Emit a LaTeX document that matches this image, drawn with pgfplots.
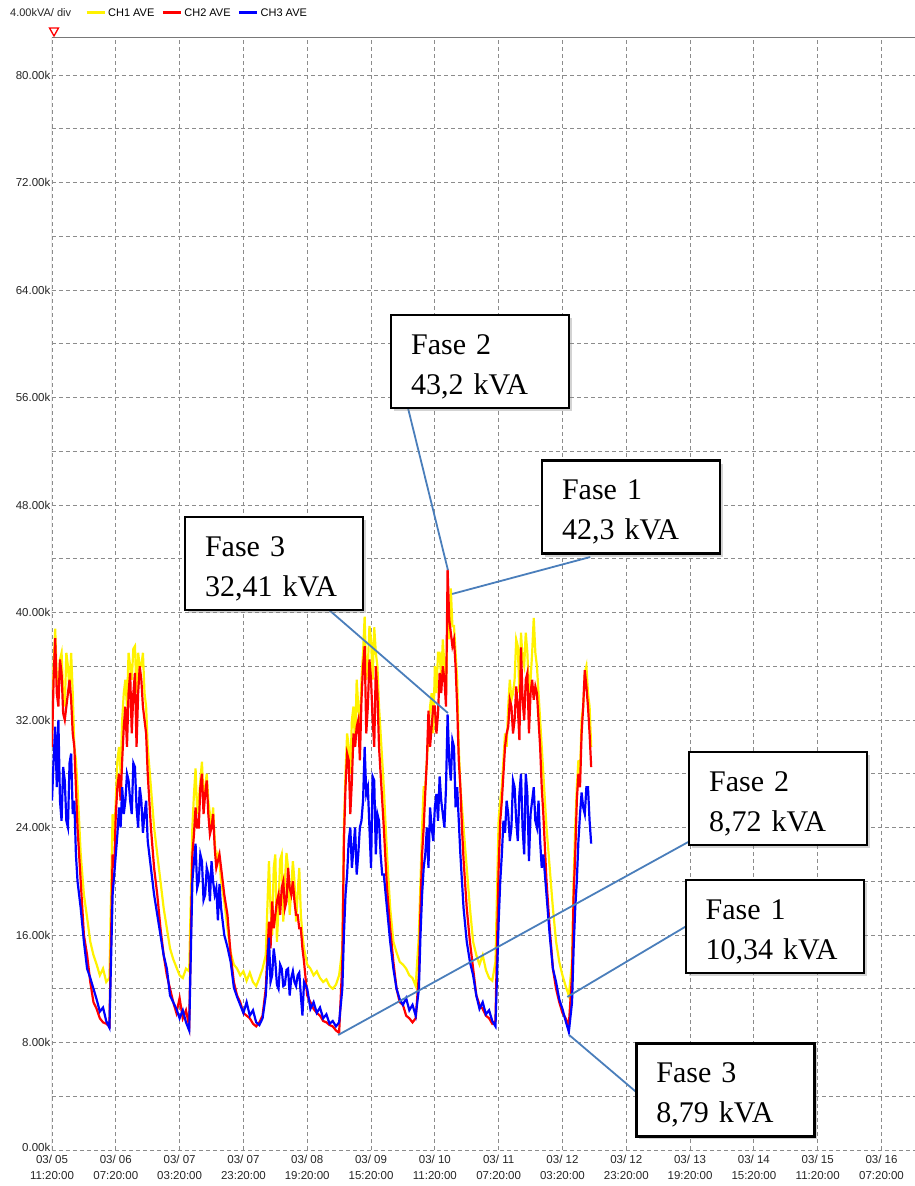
\documentclass[border=0pt]{standalone}
\usepackage{fontspec}
\setmainfont{Liberation Sans}
\newfontfamily\boxfont{Liberation Serif}
\usepackage{pgfplots}
\usepackage{pgfplotstable}
\pgfplotsset{compat=1.18}
\usetikzlibrary{shadows}

\definecolor{gridgray}{RGB}{140,140,140}
\definecolor{axgray}{RGB}{120,120,120}
\definecolor{leader}{RGB}{74,126,187}

% h = hours since 03/05 11:20, values in kVA (thousands)
\pgfplotstableread{
h    ch1  ch2  ch3
0    31   30   26
0.5  36   35   29
1    38.8 38.1 31.5
1.5  35   34   27
2    34   33   32
2.5  36.5 36.5 26
3    37   35.5 24.5
3.5  34   32.5 28.5
4    33   32   27.5
4.5  37   33   24.5
5    36   34   24
5.5  34   35   28.8
6    37   33.5 29.5
6.5  34   31   25
7    30   30   26
7.5  29   27   22
8    27   24   20
9    22   20   18
10   19   16   15.5
11   17.3 14.5 13.5
12   15.5 12.5 12.8
13   14.5 11   12
14   13.8 10.5 11.2
15   13   9.8  10.3
16   13.5 9.5  10.6
17   12.5 9.4  9.6
18   12.8 9.2  9.1
19   25   22   19
19.5 23   21   20.5
20   26   25   22
20.5 29   27   23.5
21   30   28   25.5
21.5 28   26   24
22   32   29   27
22.5 34   31.5 25
23   35   33   26
23.5 33   30   28
24   37   34   27.5
24.5 36   35.5 26
25   35   31   25
25.5 37.3 34   28.8
26   37.5 35.5 28.5
26.5 34   30   25.5
27   37   34   24
27.5 36   36   27
28   36   35   26
28.5 37   33   23.6
29   34   32   25
29.5 33   31   26
30   30   28   23
30.5 28.5 26   22
31   27   24   21
32   24   21   19
33   22   19   17.5
34   20   16.5 16
35   18   14.5 14.5
36   16.5 13   13.5
37   15   12   11.5
38   14.2 11   11
39   13.6 10.2 10.5
40   13   11.3 9.8
41   12.8 9.8  10.4
42   13.5 10.4 9.5
43   13.3 9.2  8.9
44   24   22   20
44.5 26.5 23.5 21.5
45   28.4 25.5 22.8
45.5 25   24   19.5
46   26   24   20
46.5 27.5 27   22
47   28.9 28   21.5
47.5 26   25   18.6
48   27   26.5 19
48.5 28   27.5 21
49   26   25   20.5
49.5 25   23.5 18.5
50   24   24   21.5
50.5 25.5 25   20
51   23   22.5 19
51.5 21.5 21   19.5
52   22   21.5 17.1
52.5 21.5 22   19.8
53   20   21   18
54   18.5 19   16
55   16.5 17.5 15.1
56   14.7 14.5 14
57   13.8 12.5 12.1
58   13.5 11.5 11.4
59   13   11   10.8
60   13.3 10.2 10.2
61   12.6 10   11
62   13.2 9.8  10
63   12.5 9.4  10.4
64   12.2 9.2  9.5
65   12.8 9.5  9.3
66   13.5 10   9.8
67   14.5 12   11.5
68   21.5 17   15.8
68.5 18   15   12.5
69   16   18.5 13
69.5 21   16.5 15
70   22   17.5 14
70.5 15.5 18.5 12.3
71   18   19   12
71.5 21.6 17.5 13.8
72   22   19.5 13.5
72.5 17   20   12.2
73   20   18   12.3
73.5 22.1 18.5 13.4
74   21   21   13.5
74.5 17.5 19.5 11.5
75   19.5 19   12.8
75.5 21.5 20   13.3
76   20   18.5 12.5
76.5 17   17.5 12.2
77   19   17.5 13
77.5 21   16.5 13.2
78   17.5 16.5 11.5
78.5 16   15   10
79   15   14   12.5
80   13.8 11.5 12
81   13.5 11   10.5
82   13   10.5 11
83   13.3 10.2 10.2
84   12.8 10   10.6
85   12.5 9.6  9.8
86   12.7 9.5  10.1
87   12.2 9.3  9.4
88   12   9.2  9.6
89   12.3 8.9  9.2
90   13   8.72 9.5
91   15   14   12
91.5 24   23   16
92   28   27   19
92.5 31   29.5 20.5
93   30   29   23
93.5 28   25   24
94   32   27.5 21
94.5 33   31   22.5
95   30   30   24
95.5 35   31.5 20.5
96   33   32   22
96.5 31   29   24
97   35   33.5 24.5
97.5 37   36   26
98   39.7 37.5 30
98.5 35   31   26.5
99   36   33   27
99.5 39   36.5 24
100  38   35   21
100.5 35  32   27.8
101  38.9 30   27.5
101.5 37  36   22
102  36   34   25
102.5 33  30   24.5
103  31   28   22
103.5 29  26   20.5
104  27   24   20.5
105  22   19.5 18
106  18   16.5 15.5
107  15.5 14   13.5
108  14.7 12   12
109  14   11   11.2
110  13.8 10.8 10.8
111  13.5 10   11.3
112  13   9.8  10.4
113  12.8 9.5  10.8
114  12.2 9.8  10
115  16   13   12
115.5 20  18   16
116  24   22   19
116.5 27  24   21
117  27   26.6 22
117.5 29  29   24
118  31   32.7 21
118.5 33  30   25.5
119  34   31.5 24
119.5 31  33   23
120  36   33   25.5
120.5 34  31   26.5
121  37   32.5 24.5
121.5 37  35.5 27.8
122  35   34   26
122.5 38  36   25
123  36   35   24
123.5 34  33   27
124  40   43.2 32.41
124.5 38  39.5 29
125  41.8 38.5 27.5
125.5 39  37.5 30.5
126  39   38   30
126.5 37  36   25.5
127  35   33   27
127.5 30  29   24.5
128  27   27   22
128.5 25.5 24  20
129  24   21.6 18
130  21   18   15.5
131  18   15.5 14
132  15.5 13.5 13
133  14.5 11.5 11.5
134  13.8 10.8 10.5
135  14.5 10.5 11
136  13.4 10   10.1
137  12.8 9.8  10.4
138  12.6 9.4  9.6
139  14   9.6  9.2
140  24.6 21   17
140.5 26  24.5 20
141  27   26   22
141.5 29  28   24.5
142  31   30   23.6
142.5 30  31   26
143  33   31.5 25
143.5 35  33.5 23
144  33.5 33   24
144.5 34  31   27.5
145  35   32   27
145.5 38  34.5 24.5
146  37.5 33   23
146.5 34  30.5 26.5
147  38.5 37.4 28
147.5 36.5 33.5 24
148  36   32   22
148.5 38.5 35  28
149  37   35.5 26.5
149.5 34  31   21.5
150  35   34   25
150.5 37  35   26
151  39.6 33.5 27
151.5 37  34.5 24.5
152  36   34   24
152.5 34  32   26
153  32   30   23
153.5 30  27   21
154  28   25   22
155  24   20   19
156  21   16.5 16
157  18   13.5 13.5
158  15.5 12   12.5
159  14   11   11.2
160  13   10.2 10.5
161  12.2 9.8  9.6
162  11.5 9.3  8.79
163  14   13   11
163.5 20  19   15
164  24   22   18
164.5 27  26   20
165  29   28   23
165.5 28  27   25
166  32   31   26.6
166.5 33  33   25.5
167  35.5 35.7 25
167.5 36  34.5 27
168  34   33   27
168.5 33  31   24.5
169  30   28.5 22.8
}\loaddata

\begin{document}
\begin{tikzpicture}
\begin{axis}[
    at={(0pt,0pt)}, anchor=south west,
    scale only axis, width=863pt, height=1113pt,
    xmin=0, xmax=270.5, ymin=0, ymax=82.83,
    axis line style={draw=none},
    tick style={draw=none},
    xtick={0,20,...,260},
    xticklabels={{03/ 05\\11:20:00},{03/ 06\\07:20:00},{03/ 07\\03:20:00},{03/ 07\\23:20:00},
      {03/ 08\\19:20:00},{03/ 09\\15:20:00},{03/ 10\\11:20:00},{03/ 11\\07:20:00},
      {03/ 12\\03:20:00},{03/ 12\\23:20:00},{03/ 13\\19:20:00},{03/ 14\\15:20:00},
      {03/ 15\\11:20:00},{03/ 16\\07:20:00}},
    xticklabel style={align=center, font=\fontsize{11.5}{16}\selectfont, text=black!85,
      inner sep=1pt, yshift=-4pt},
    ytick={0,8,...,80},
    yticklabels={\raisebox{5pt}{0.00k},8.00k,16.00k,24.00k,32.00k,40.00k,48.00k,56.00k,64.00k,72.00k,80.00k},
    yticklabel style={font=\fontsize{11.5}{13}\selectfont, text=black!85, inner sep=1.5pt},
    minor ytick={4,12,...,76},
    grid=both,
    major grid style={gridgray, line width=0.8pt, dash pattern=on 4pt off 3pt},
    minor grid style={gridgray, line width=0.8pt, dash pattern=on 4pt off 3pt},
    legend columns=3,
    legend style={at={(0.0382,1.0216)}, anchor=west, draw=none, fill=none,
      font=\fontsize{11}{12}\selectfont, inner sep=0pt,
      /tikz/every even column/.append style={column sep=5pt}},
    legend image code/.code={\draw[#1, line width=3pt] (0pt,0pt) -- (18pt,0pt);},
]
\addplot[yellow, line width=2.2pt] table[x=h, y=ch1] {\loaddata};
\addlegendentry{CH1 AVE}
\addplot[red, line width=2.2pt] table[x=h, y=ch2] {\loaddata};
\addlegendentry{CH2 AVE}
\addplot[blue, line width=2.2pt] table[x=h, y=ch3] {\loaddata};
\addlegendentry{CH3 AVE}

\draw[axgray, line width=1pt] (rel axis cs:1,1) -- (rel axis cs:0,1) -- (rel axis cs:0,0);

% leader lines
\draw[leader, line width=1.8pt] (axis cs:111.6,55.2) -- (axis cs:124.1,43.16);
\draw[leader, line width=1.8pt] (axis cs:125.4,41.38) -- (axis cs:168.7,44.13);
\draw[leader, line width=1.8pt] (axis cs:86.5,40.26) -- (axis cs:124.1,32.52);
\draw[leader, line width=1.8pt] (axis cs:89.7,8.56) -- (axis cs:199.4,22.92);
\draw[leader, line width=1.8pt] (axis cs:161.5,11.39) -- (axis cs:199.4,16.74);
\draw[leader, line width=1.8pt] (axis cs:162.1,8.56) -- (axis cs:183.1,4.32);

\tikzset{fbox/.style={draw=black, line width=2.2pt, fill=white, align=left,
    text width=138pt, inner xsep=20pt, inner ysep=0pt, minimum height=93pt,
    font=\boxfont\fontsize{30}{40}\selectfont,
    drop shadow={opacity=0.35, shadow xshift=3pt, shadow yshift=-3pt}}}
\newcommand{\fs}{\rule{0pt}{30pt}}
\node[fbox] at (axis cs:134.2,58.68) {\fs Fase 2\\43,2 kVA};
\node[fbox] at (axis cs:181.5,47.85) {\fs Fase 1\\42,3 kVA};
\node[fbox] at (axis cs:69.6,43.65) {\fs Fase 3\\32,41 kVA};
\node[fbox] at (axis cs:227.6,26.16) {\fs Fase 2\\8,72 kVA};
\node[fbox] at (axis cs:226.5,16.63) {\fs Fase 1\\10,34 kVA};
\node[fbox] at (axis cs:211.1,4.47) {\fs Fase 3\\8,79 kVA};
\end{axis}

\node[anchor=west, font=\fontsize{11}{12}\selectfont, text=black!85, inner sep=0pt] at (-42pt,1137pt) {4.00kVA/ div};
\draw[red, line width=1.3pt, fill=white] (-2.5pt,1122pt) -- (6.5pt,1122pt) -- (2pt,1114pt) -- cycle;

\pgfresetboundingbox
\path[use as bounding box] (-52pt,-36pt) rectangle (863pt,1150pt);
\end{tikzpicture}
\end{document}
